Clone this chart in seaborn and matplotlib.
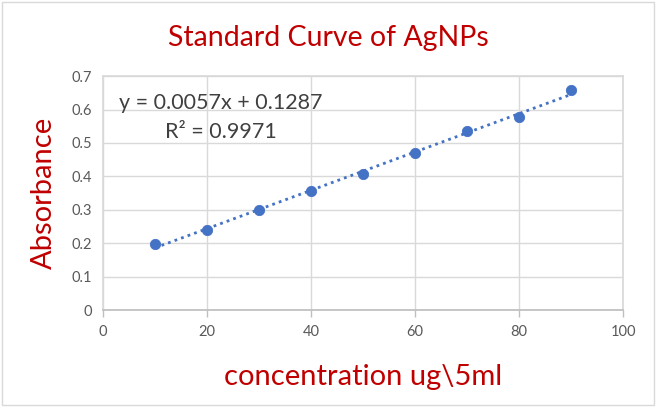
import numpy as np
import pandas as pd
import seaborn as sns
import matplotlib.pyplot as plt

# standard curve readings
concentration = [10, 20, 30, 40, 50, 60, 70, 80, 90]
absorbance = [0.197, 0.241, 0.300, 0.355, 0.407, 0.470, 0.537, 0.577, 0.658]
x_ticks = [0, 20, 40, 60, 80, 100]
y_ticks = [0, 0.1, 0.2, 0.3, 0.4, 0.5, 0.6, 0.7]
eq_text = 'y = 0.0057x + 0.1287'
r2_text = 'R² = 0.9971'

df = pd.DataFrame({'conc': concentration, 'abs': absorbance})

# linear trendline
slope, intercept = np.polyfit(df['conc'], df['abs'], 1)
df['fit'] = slope * df['conc'] + intercept

sns.set_theme(style='white')
plt.rcParams['font.family'] = ['Lato', 'DejaVu Sans']

fig = plt.figure(figsize=(6.56, 4.07), dpi=100)
ax = fig.add_axes([0.157, 0.238, 0.793, 0.575])

blue = '#4472C4'
sns.lineplot(data=df, x='conc', y='fit', ax=ax, color=blue, linestyle=(0, (1, 1.5)), linewidth=2)
sns.scatterplot(data=df, x='conc', y='abs', ax=ax, color=blue, s=55, edgecolor=blue, zorder=3)

ax.set_xlim(0, 100)
ax.set_ylim(0, 0.7)
ax.set_xticks(x_ticks)
ax.set_yticks(y_ticks)
ax.set_xticklabels([str(t) for t in x_ticks])
ax.set_yticklabels(['0'] + [str(t) for t in y_ticks[1:]])
ax.grid(True, color='#D9D9D9', linewidth=1)
ax.set_axisbelow(True)
for s in ['top', 'right', 'left']:
    ax.spines[s].set_color('#D9D9D9')
ax.spines['bottom'].set_color('#BFBFBF')
ax.tick_params(axis='x', colors='#595959', labelsize=10.5, length=5, width=1, direction='out', bottom=True, pad=6)
ax.tick_params(axis='y', colors='#595959', labelsize=10.5, length=0, pad=8)
ax.xaxis.set_tick_params(color='#BFBFBF')

ax.set_xlabel('concentration ug\\5ml', color='#C00000', fontsize=21, labelpad=18)
ax.set_ylabel('Absorbance', color='#C00000', fontsize=21, labelpad=10)
fig.text(0.5, 0.907, 'Standard Curve of AgNPs', color='#C00000', fontsize=20.5, ha='center', va='center')

ax.text(0.03, 0.885, eq_text, transform=ax.transAxes, fontsize=15.5, color='#404040', va='center')
ax.text(0.12, 0.76, r2_text, transform=ax.transAxes, fontsize=15.5, color='#404040', va='center')

# outer chart border
fig.patches.append(plt.Rectangle((0.003, 0.005), 0.994, 0.99, transform=fig.transFigure,
                                 fill=False, edgecolor='#D9D9D9', linewidth=1))

fig.savefig('out.png', dpi=100)
